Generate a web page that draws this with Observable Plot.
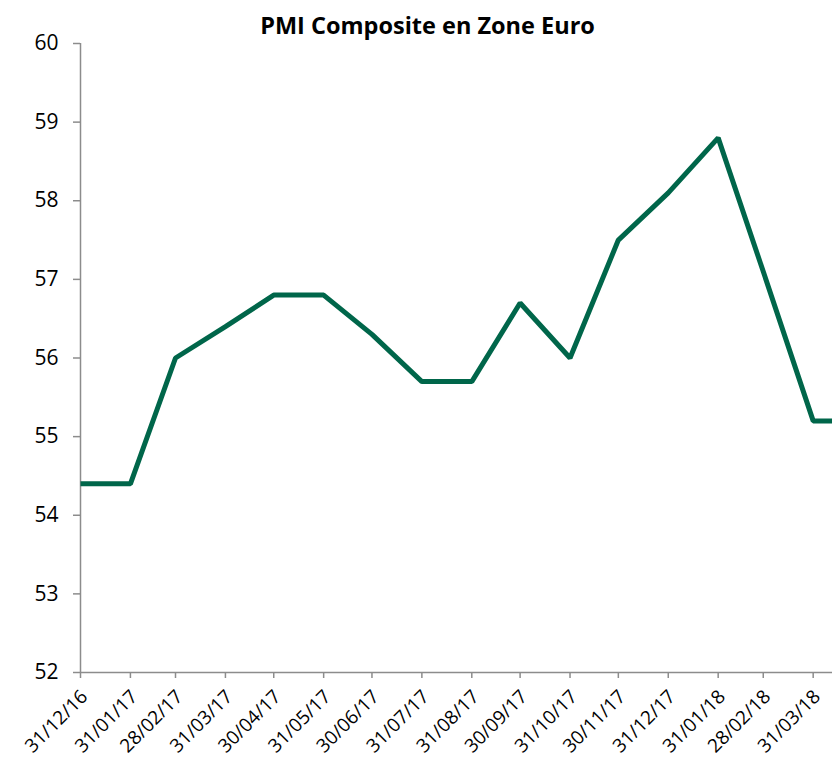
<!DOCTYPE html>
<html>
<head>
<meta charset="utf-8">
<script src="https://cdn.jsdelivr.net/npm/d3@7"></script>
<script src="https://cdn.jsdelivr.net/npm/@observablehq/plot@0.6"></script>
<style>
  html, body { margin: 0; padding: 0; background: #fff; overflow: hidden; }
  #wrap { position: relative; width: 832px; height: 764px; }
  #title { position: absolute; left: 0; top: 11px; width: 855px; text-align: center;
           font-family: "Open Sans", sans-serif; font-weight: bold; font-size: 23.5px; color: #000; line-height: 1.2; }
  #chart { position: absolute; left: 0; top: 0; }
</style>
</head>
<body>
<div id="wrap">
  <div id="chart"></div>
  <div id="title">PMI Composite en Zone Euro</div>
</div>
<script>
const dates = ["2016-12-31","2017-01-31","2017-02-28","2017-03-31","2017-04-30","2017-05-31","2017-06-30","2017-07-31","2017-08-31","2017-09-30","2017-10-31","2017-11-30","2017-12-31","2018-01-31","2018-02-28","2018-03-31","2018-04-30"];
const pmi = [54.4, 54.4, 56.0, 56.4, 56.8, 56.8, 56.3, 55.7, 55.7, 56.7, 56.0, 57.5, 58.1, 58.8, 57.1, 55.2, 55.2];
const xTicks = ["2016-12-31","2017-01-31","2017-02-28","2017-03-31","2017-04-30","2017-05-31","2017-06-30","2017-07-31","2017-08-31","2017-09-30","2017-10-31","2017-11-30","2017-12-31","2018-01-31","2018-02-28","2018-03-31"];
const yTicks = [52, 53, 54, 55, 56, 57, 58, 59, 60];
const xDomain = ["2016-12-31", "2018-04-12"];

const data = dates.map((d, i) => ({date: new Date(d), value: pmi[i]}));
const fmt = d3.utcFormat("%d/%m/%y");
const axisColor = "#8c8c8c";
const tickDates = xTicks.map(d => new Date(d));

const chart = Plot.plot({
  width: 832,
  height: 764,
  marginLeft: 80,
  marginRight: 0,
  marginTop: 43,
  marginBottom: 92,
  style: {fontFamily: "'Open Sans', sans-serif", color: "#000", background: "#fff", overflow: "visible"},
  x: {type: "utc", domain: xDomain.map(d => new Date(d)), label: null},
  y: {domain: [52, 60], label: null},
  marks: [
    Plot.axisY({ticks: yTicks, label: null, tickSize: 7, tickPadding: 15, stroke: axisColor, strokeWidth: 1.5, fontSize: 21, fill: "#000", tickFormat: d => d}),
    Plot.axisX({ticks: tickDates, label: null, tickFormat: () => "", tickSize: 6, stroke: axisColor, strokeWidth: 1.5}),
    Plot.axisX({ticks: tickDates, label: null, tickFormat: fmt, tickSize: 0, tickPadding: 18, tickRotate: -45, fontSize: 19, fill: "#000", dx: 4, dy: 3}),
    Plot.ruleX([new Date(xDomain[0])], {stroke: axisColor, strokeWidth: 1.5}),
    Plot.ruleY([52], {stroke: axisColor, strokeWidth: 1.5}),
    Plot.line(data, {x: "date", y: "value", stroke: "#00664a", strokeWidth: 5, strokeLinejoin: "miter", strokeLinecap: "butt", clip: true})
  ]
});
document.getElementById("chart").appendChild(chart);
</script>
</body>
</html>
